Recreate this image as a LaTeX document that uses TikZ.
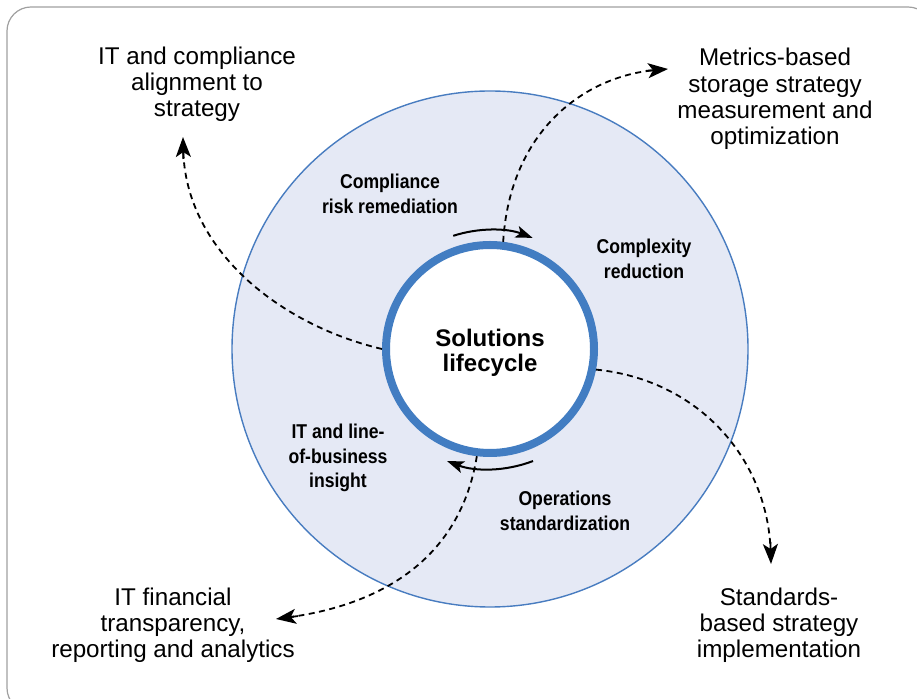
\documentclass[tikz,border=0pt]{standalone}
\usepackage{fontspec}
\setmainfont{Liberation Sans}
\newfontfamily\condfont[FakeStretch=0.88]{Liberation Sans}
\usetikzlibrary{arrows.meta,positioning,calc}
\definecolor{ringblue}{RGB}{66,125,194}
\definecolor{discfill}{RGB}{229,233,245}
\definecolor{discline}{RGB}{72,124,192}
\definecolor{framegray}{RGB}{160,160,160}
\tikzset{
  disc/.style  = {circle, draw=discline, line width=1.4pt, fill=discfill,
                  minimum size=516pt, inner sep=0pt},
  hub/.style   = {circle, draw=ringblue, line width=8pt, fill=white,
                  minimum size=208pt, inner sep=0pt},
  hubtext/.style = {align=center, inner sep=0pt,
                  font=\bfseries\fontsize{24}{25}\selectfont},
  phase/.style = {align=center, inner sep=0pt,
                  font=\condfont\bfseries\fontsize{20}{24.5}\selectfont},
  goal/.style  = {align=center, inner sep=0pt,
                  font=\fontsize{24.2}{26.2}\selectfont},
  flow/.style  = {line width=1.8pt, dash pattern=on 6pt off 4.5pt,
                  shorten >=12pt},
  flowtip/.style = {line width=1.8pt,
                  -{Stealth[length=20pt,width=15pt,inset=5pt]}},
  turnarrow/.style = {line width=2pt,
                  -{Stealth[length=17pt,width=12pt,inset=4pt]}}
}

\begin{document}
\begin{tikzpicture}[x=1pt,y=1pt]
\useasboundingbox (0,0) rectangle (917,698);

% frame, cut off at the right and at the bottom
\begin{scope}
\clip (0,0) rectangle (917,698);
\draw[framegray, line width=1.2pt, rounded corners=24pt] (7,-14) rectangle (932,691);
\end{scope}

% the disc and the lifecycle ring
\node[disc] (disc) at (490,349) {};
\node[hub] (hub) at (490,349) {};
\node[hubtext] (hubtext) at ([yshift=-4]hub.center) {Solutions\\lifecycle};

% phases inside the disc
\node[phase] (p1) at (390,504) {Compliance\\risk remediation};
\node[phase] (p2) at (644,439) {Complexity\\reduction};
\node[phase] (p3) at (565,187) {Operations\\standardization};
\node[phase] (p4) at (338,240) {IT and line-\\of-business\\insight};

% goals around the disc
\node[goal] (g1) at (197,614) {IT and compliance\\alignment to\\strategy};
\node[goal] (g2) at (775,599) {Metrics-based\\storage strategy\\measurement and\\optimization};
\node[goal] (g3) at (779,73) {Standards-\\based strategy\\implementation};
\node[goal] (g4) at (173,73) {IT financial\\transparency,\\reporting and analytics};

% tips of the dashed lines and their control points
\coordinate (t1) at (183,561); \coordinate (a1) at (280,373); \coordinate (b1) at (185,448);
\coordinate (t2) at (668,629); \coordinate (a2) at (510,568); \coordinate (b2) at (585,622);
\coordinate (t3) at (771,134); \coordinate (a3) at (700,318); \coordinate (b3) at (768,238);
\coordinate (t4) at (276,79);  \coordinate (a4) at (460,138); \coordinate (b4) at (380,93);

% dashed lines from the ring out to the goals, solid heads at the ends
\foreach \i/\s in {1/180, 2/83, 3/-11, 4/-97} {
  \draw[flow] (hub.\s) .. controls (a\i) and (b\i) .. (t\i);
  \draw[flowtip] ($(t\i)!22pt!(b\i)$) -- (t\i);
}

% turning arrows round the ring
\draw[turnarrow] ([shift={(108:119)}]hub.center) arc[start angle=108, end angle=69, radius=119];
\draw[turnarrow] ([shift={(-69:120)}]hub.center) arc[start angle=-69, end angle=-111, radius=120];
\end{tikzpicture}
\end{document}
